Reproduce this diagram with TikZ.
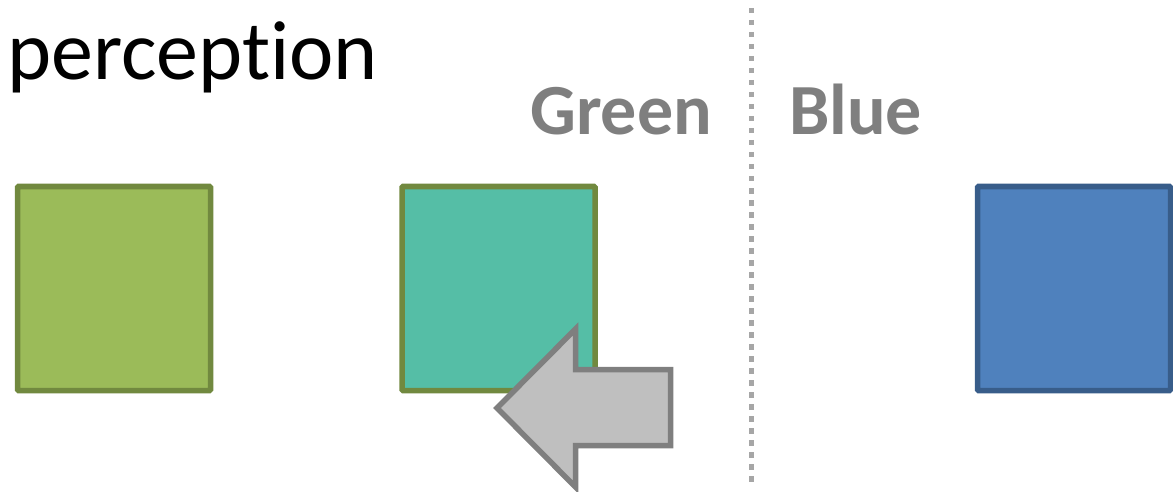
\documentclass[tikz,border=0pt]{standalone}
\usepackage{fontspec}
\setmainfont{Carlito}[RawFeature={-liga;-clig;-dlig;-calt}]
\definecolor{grfill}{HTML}{9BBB59}
\definecolor{grline}{HTML}{71893F}
\definecolor{tlfill}{HTML}{55BEA6}
\definecolor{blfill}{HTML}{4F81BD}
\definecolor{blline}{HTML}{385D8A}
\definecolor{labgray}{HTML}{7F7F7F}
\definecolor{arrfill}{HTML}{BFBFBF}
\definecolor{sepgray}{HTML}{A6A6A6}
\tikzset{
  sq/.style={draw, line width=5.5pt, minimum width=193pt, minimum height=204pt,
    inner sep=0pt, outer sep=0pt, rounded corners=1pt},
  lab/.style={anchor=base west, inner sep=0pt, text=labgray,
    font=\fontsize{72}{72}\selectfont\bfseries},
}
\begin{document}
\begin{tikzpicture}[x=1pt, y=-1pt]
\useasboundingbox (0,0) rectangle (1173,492);
\begin{scope}
\clip (0,0) rectangle (1173,492);

% title (t and i kept as separate glyphs)
\node[anchor=base west, inner sep=0pt, font=\fontsize{84}{84}\selectfont]
  (title) at (7,80) {percept\kern0pt ion};

% category labels
\node[lab] (green) at (530,135) {Green};
\node[lab] (blue) at (789,135) {Blue};

% boundary between the two categories
\coordinate (septop) at (751.5,8);
\coordinate (sepbot) at (751.5,486);
\draw[sepgray, line width=5.5pt, dash pattern=on 5.5pt off 6.5pt] (septop) -- (sepbot);

% colour squares
\node[sq, fill=grfill, draw=grline] (sqa) at (114,288.5) {};
\node[sq, fill=tlfill, draw=grline] (sqb) at (498.5,288.5) {};
\node[sq, fill=blfill, draw=blline] (sqc) at (1074,288.5) {};

% block arrow pointing left
\draw[fill=arrfill, draw=labgray, line width=5.5pt, miter limit=10]
  (497,408) -- (575.5,329) -- (575.5,369.5) -- (670.5,369.5)
  -- (670.5,445.5) -- (575.5,445.5) -- (575.5,487) -- cycle;
\end{scope}
\end{tikzpicture}
\end{document}
